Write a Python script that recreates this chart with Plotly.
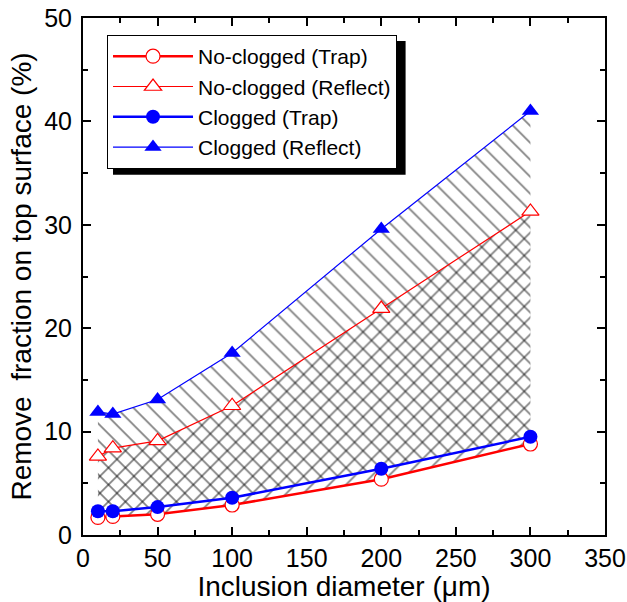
import plotly.graph_objects as go

# data
diameter = [10, 20, 50, 100, 200, 300]
noclog_trap = [1.7, 1.8, 2.0, 2.9, 5.4, 8.8]
noclog_reflect = [7.6, 8.4, 9.1, 12.5, 21.9, 31.3]
clog_trap = [2.3, 2.3, 2.7, 3.6, 6.4, 9.5]
clog_reflect = [11.9, 11.7, 13.1, 17.6, 29.6, 41.0]

RED = "#ff0000"
BLUE = "#0000ff"
FONT = "Arial, Liberation Sans, Helvetica, sans-serif"

fig = go.Figure()

# hatched bands
fig.add_trace(go.Scatter(x=diameter, y=clog_trap, mode="lines", line=dict(width=0),
                         showlegend=False, hoverinfo="skip"))
fig.add_trace(go.Scatter(x=diameter, y=clog_reflect, mode="lines", line=dict(width=0),
                         fill="tonexty", fillcolor="rgba(0,0,0,0)",
                         fillpattern=dict(shape="\\", size=12, solidity=0.14,
                                          fgcolor="black", bgcolor="rgba(0,0,0,0)"),
                         showlegend=False, hoverinfo="skip"))
fig.add_trace(go.Scatter(x=diameter, y=noclog_trap, mode="lines", line=dict(width=0),
                         showlegend=False, hoverinfo="skip"))
fig.add_trace(go.Scatter(x=diameter, y=noclog_reflect, mode="lines", line=dict(width=0),
                         fill="tonexty", fillcolor="rgba(0,0,0,0)",
                         fillpattern=dict(shape="/", size=12, solidity=0.14,
                                          fgcolor="black", bgcolor="rgba(0,0,0,0)"),
                         showlegend=False, hoverinfo="skip"))

# visible series
fig.add_trace(go.Scatter(x=diameter, y=noclog_trap, mode="lines+markers", name="No-clogged (Trap)",
                         line=dict(color=RED, width=2.5),
                         marker=dict(symbol="circle", size=14, color="white",
                                     line=dict(color=RED, width=1.2))))
fig.add_trace(go.Scatter(x=diameter, y=noclog_reflect, mode="lines+markers", name="No-clogged (Reflect)",
                         line=dict(color=RED, width=1.2),
                         marker=dict(symbol="triangle-up", size=15, color="white",
                                     line=dict(color=RED, width=1.2))))
fig.add_trace(go.Scatter(x=diameter, y=clog_trap, mode="lines+markers", name="Clogged (Trap)",
                         line=dict(color=BLUE, width=2.5),
                         marker=dict(symbol="circle", size=14, color=BLUE)))
fig.add_trace(go.Scatter(x=diameter, y=clog_reflect, mode="lines+markers", name="Clogged (Reflect)",
                         line=dict(color=BLUE, width=1.2),
                         marker=dict(symbol="triangle-up", size=15, color=BLUE)))

axis_common = dict(
    showline=True, linecolor="black", linewidth=2, mirror="allticks",
    ticks="inside", ticklen=8, tickwidth=1.5, tickcolor="black",
    showgrid=False, zeroline=False,
    tickfont=dict(family=FONT, size=25, color="black"),
)

fig.update_xaxes(range=[0, 350], tickvals=[0, 50, 100, 150, 200, 250, 300, 350],
                 minor=dict(dtick=25, tick0=0, ticks="inside", ticklen=5, tickwidth=1.5, tickcolor="black"),
                 title=dict(text="Inclusion diameter (μm)", font=dict(family=FONT, size=28, color="black"),
                            standoff=4),
                 **axis_common)
fig.update_yaxes(range=[0, 50], tickvals=[0, 10, 20, 30, 40, 50],
                 minor=dict(dtick=5, tick0=0, ticks="inside", ticklen=5, tickwidth=1.5, tickcolor="black"),
                 title=dict(text="Remove  fraction on top surface (%)", font=dict(family=FONT, size=28, color="black"),
                            standoff=4),
                 ticklabelstandoff=4,
                 **axis_common)

# legend shadow
fig.add_shape(type="rect", xref="paper", yref="paper",
              x0=0.0575, x1=0.618, y0=0.697, y1=0.9555,
              fillcolor="black", line=dict(width=0), layer="above")

fig.update_layout(
    width=627, height=602,
    margin=dict(l=83, r=22, t=18, b=67, autoexpand=False),
    paper_bgcolor="white", plot_bgcolor="white",
    font=dict(family=FONT, color="black"),
    legend=dict(x=0.046, y=0.967, xanchor="left", yanchor="top",
                traceorder="normal",
                bgcolor="white", bordercolor="black", borderwidth=1,
                font=dict(family=FONT, size=21, color="black"),
                tracegroupgap=0, itemwidth=80),
)

fig.write_html("out.html")
